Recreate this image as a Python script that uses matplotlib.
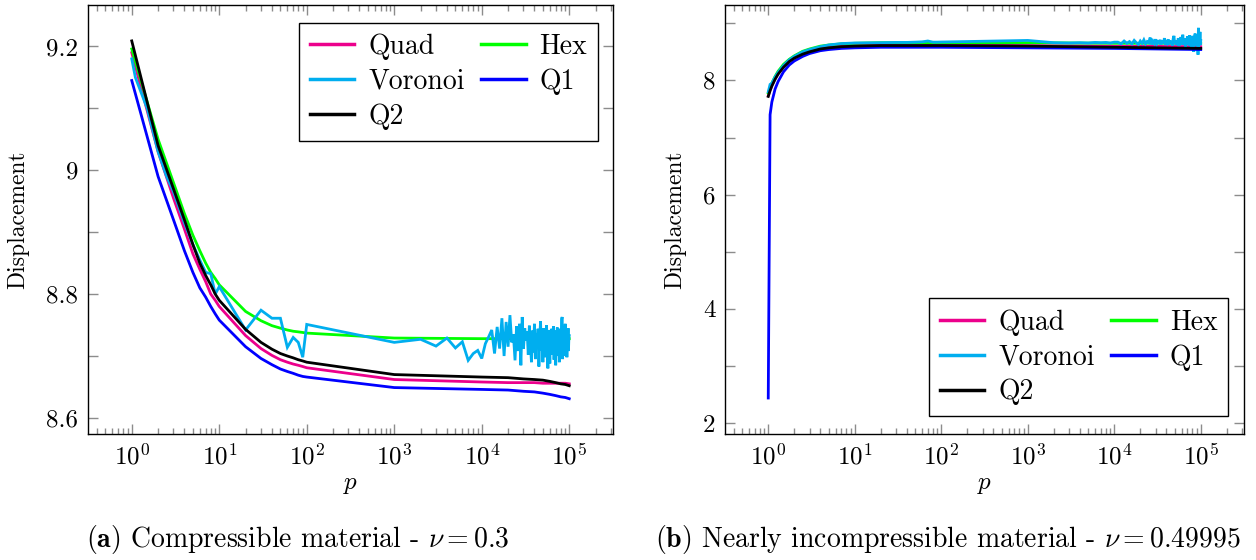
import numpy as np
import matplotlib
matplotlib.use("Agg")
import matplotlib.pyplot as plt
from matplotlib.ticker import FixedLocator, FixedFormatter, LogLocator, LogFormatterSciNotation, NullFormatter

plt.rcParams['font.family'] = ['cmr10', 'DejaVu Serif']
plt.rcParams['mathtext.fontset'] = 'cm'
plt.rcParams['axes.formatter.use_mathtext'] = True
plt.rcParams['axes.unicode_minus'] = False

# ---------------- compressible material (nu = 0.3) ----------------
p_smooth = [1, 2, 3, 4, 5, 6, 7, 8, 9, 10, 20, 30, 40, 50, 60, 70, 80, 90, 100,
            1000, 10000, 20000, 30000, 40000, 50000, 60000, 70000, 80000, 90000, 100000]
quad_a = [9.190, 9.030, 8.955, 8.905, 8.865, 8.840, 8.820, 8.800, 8.790, 8.780,
          8.733, 8.712, 8.701, 8.694, 8.690, 8.687, 8.685, 8.683, 8.681,
          8.662, 8.658, 8.657, 8.657, 8.657, 8.656, 8.656, 8.656, 8.656, 8.656, 8.655]
hex_a = [9.196, 9.050, 8.980, 8.930, 8.895, 8.870, 8.850, 8.835, 8.825, 8.815,
         8.772, 8.757, 8.749, 8.745, 8.742, 8.740, 8.739, 8.738, 8.737,
         8.729, 8.728, 8.728, 8.728, 8.728, 8.728, 8.728, 8.728, 8.728, 8.728, 8.728]
q1_a = [9.145, 8.990, 8.920, 8.870, 8.835, 8.810, 8.795, 8.780, 8.768, 8.758,
        8.715, 8.696, 8.686, 8.679, 8.675, 8.672, 8.669, 8.667, 8.666,
        8.649, 8.646, 8.645, 8.643, 8.642, 8.640, 8.638, 8.636, 8.634, 8.633, 8.631]
q2_a = [9.209, 9.040, 8.970, 8.920, 8.880, 8.850, 8.830, 8.815, 8.800, 8.790,
        8.743, 8.722, 8.711, 8.704, 8.700, 8.697, 8.694, 8.692, 8.690,
        8.670, 8.666, 8.665, 8.663, 8.662, 8.661, 8.659, 8.657, 8.655, 8.654, 8.652]

p_vor_head = [1, 1.1, 1.5, 2, 2.5, 3, 4, 5, 6, 7, 8, 9, 10, 20, 30, 40, 50, 60, 70, 80, 90, 100,
              1000, 2000, 3000, 4000, 5000, 6000, 7000, 8000, 9000, 10000]
vor_a_head = [9.180, 9.150, 9.100, 9.030, 8.990, 8.965, 8.915, 8.880, 8.855, 8.835, 8.833, 8.800, 8.812,
              8.742, 8.774, 8.761, 8.761, 8.714, 8.730, 8.722, 8.698, 8.751,
              8.722, 8.727, 8.716, 8.729, 8.713, 8.723, 8.693, 8.704, 8.709, 8.696]
p_vor_tail = np.arange(11000, 100001, 1000)
vor_a_tail = [8.720, 8.731, 8.742, 8.704, 8.747, 8.712, 8.761, 8.700, 8.755, 8.715,
              8.766, 8.722, 8.735, 8.693, 8.748, 8.708, 8.752, 8.685, 8.763, 8.712,
              8.745, 8.725, 8.740, 8.702, 8.749, 8.718, 8.690, 8.741, 8.706, 8.752,
              8.695, 8.737, 8.720, 8.744, 8.683, 8.731, 8.756, 8.709, 8.727, 8.690,
              8.745, 8.712, 8.735, 8.698, 8.750, 8.716, 8.680, 8.742, 8.722, 8.688,
              8.738, 8.710, 8.744, 8.702, 8.731, 8.748, 8.694, 8.726, 8.741, 8.685,
              8.733, 8.712, 8.746, 8.700, 8.723, 8.738, 8.690, 8.729, 8.744, 8.706,
              8.722, 8.760, 8.763, 8.695, 8.735, 8.710, 8.748, 8.700, 8.730, 8.752,
              8.705, 8.725, 8.742, 8.698, 8.736, 8.715, 8.745, 8.708, 8.729, 8.733]

# ---------------- nearly incompressible material (nu = 0.49995) ----------------
p_fine = [1, 1.05, 1.1, 1.2, 1.3, 1.5, 1.75, 2, 2.5, 3, 4, 5, 7, 10, 20, 50, 100,
          1000, 10000, 100000]
quad_b = [7.73, 7.83, 7.91, 8.03, 8.12, 8.24, 8.34, 8.40, 8.47, 8.52, 8.56, 8.58, 8.60, 8.61,
          8.62, 8.62, 8.62, 8.61, 8.60, 8.59]
hex_b = [7.78, 7.87, 7.95, 8.07, 8.16, 8.28, 8.37, 8.43, 8.51, 8.55, 8.60, 8.62, 8.64, 8.65,
         8.66, 8.66, 8.66, 8.66, 8.65, 8.65]
q1_b = [2.44, 7.40, 7.62, 7.85, 7.98, 8.15, 8.27, 8.34, 8.42, 8.47, 8.52, 8.54, 8.56, 8.57,
        8.58, 8.58, 8.58, 8.57, 8.56, 8.54]
q2_b = [7.72, 7.82, 7.90, 8.02, 8.11, 8.23, 8.33, 8.39, 8.46, 8.50, 8.55, 8.57, 8.59, 8.60,
        8.61, 8.61, 8.61, 8.60, 8.58, 8.56]

p_vor_b_head = [1, 1.05, 1.1, 1.2, 1.3, 1.5, 1.75, 2, 2.5, 3, 4, 5, 7, 10, 20, 30, 40, 50, 60, 70,
                80, 90, 100, 1000, 2000, 3000, 4000, 5000, 6000, 7000, 8000, 9000, 10000]
vor_b_head = [7.80, 7.93, 7.95, 8.06, 8.14, 8.26, 8.36, 8.42, 8.50, 8.54, 8.59, 8.62, 8.645, 8.655,
              8.66, 8.665, 8.665, 8.67, 8.675, 8.69, 8.67, 8.67, 8.672, 8.70, 8.66, 8.655, 8.66,
              8.655, 8.665, 8.66, 8.665, 8.655, 8.67]
vor_b_tail = [8.67, 8.64, 8.69, 8.65, 8.68, 8.64, 8.70, 8.66, 8.63, 8.69,
              8.65, 8.71, 8.64, 8.68, 8.66, 8.75, 8.63, 8.69, 8.65, 8.72,
              8.64, 8.68, 8.66, 8.71, 8.63, 8.70, 8.65, 8.74, 8.62, 8.69,
              8.66, 8.72, 8.63, 8.70, 8.65, 8.68, 8.61, 8.73, 8.78, 8.64,
              8.70, 8.62, 8.69, 8.66, 8.74, 8.60, 8.71, 8.65, 8.76, 8.63,
              8.68, 8.80, 8.62, 8.70, 8.66, 8.74, 8.59, 8.72, 8.64, 8.77,
              8.63, 8.70, 8.66, 8.79, 8.60, 8.72, 8.65, 8.75, 8.58, 8.78,
              8.62, 8.70, 8.50, 8.76, 8.64, 8.82, 8.61, 8.72, 8.66, 8.80,
              8.63, 8.74, 8.45, 8.92, 8.60, 8.78, 8.65, 8.85, 8.62, 8.70]

labels = ['Quad', 'Hex', 'Voronoi', 'Q1', 'Q2']
colors = {'Quad': '#EC008C', 'Hex': '#00FF00', 'Voronoi': '#00AEEF', 'Q1': '#0000FF', 'Q2': '#000000'}

fig = plt.figure(figsize=(12.56, 5.6), dpi=100)
W, H = 1256, 560
ax_a = fig.add_axes([88 / W, 126 / H, 525 / W, 429 / H])
ax_b = fig.add_axes([725 / W, 126 / H, 519 / W, 429 / H])

lw = 2.0
fs_tick = 18
fs_label = 17
fs_leg = 20
fs_cap = 20


def draw(ax, series):
    handles = {}
    for name in labels:
        x, y = series[name]
        h, = ax.plot(x, y, color=colors[name], lw=lw, label=name, solid_joinstyle='miter')
        handles[name] = h
    return handles


ha = draw(ax_a, {
    'Quad': (p_smooth, quad_a),
    'Hex': (p_smooth, hex_a),
    'Voronoi': (list(p_vor_head) + list(p_vor_tail), vor_a_head + vor_a_tail),
    'Q1': (p_smooth, q1_a),
    'Q2': (p_smooth, q2_a),
})
hb = draw(ax_b, {
    'Quad': (p_fine, quad_b),
    'Hex': (p_fine, hex_b),
    'Voronoi': (list(p_vor_b_head) + list(p_vor_tail), vor_b_head + vor_b_tail),
    'Q1': (p_fine, q1_b),
    'Q2': (p_fine, q2_b),
})


def style(ax, ylim, major, minor, majlabels):
    ax.set_xscale('log')
    ax.set_xlim(10 ** -0.5, 10 ** 5.5)
    ax.set_ylim(*ylim)
    ax.xaxis.set_major_locator(FixedLocator([1, 10, 100, 1000, 10000, 100000]))
    ax.xaxis.set_major_formatter(LogFormatterSciNotation())
    ax.xaxis.set_minor_locator(LogLocator(base=10, subs=np.arange(2, 10), numticks=20))
    ax.xaxis.set_minor_formatter(NullFormatter())
    ax.yaxis.set_major_locator(FixedLocator(major))
    ax.yaxis.set_major_formatter(FixedFormatter(majlabels))
    ax.yaxis.set_minor_locator(FixedLocator(minor))
    ax.tick_params(which='both', direction='in', top=True, right=True,
                   color='0.55', width=1.0, labelsize=fs_tick)
    ax.tick_params(which='major', length=7, pad=7)
    ax.tick_params(axis='x', which='minor', length=4)
    ax.tick_params(axis='y', which='minor', length=7)
    for s in ax.spines.values():
        s.set_linewidth(1.0)
    ax.set_xlabel('$p$', fontsize=fs_tick, labelpad=3)
    ax.set_ylabel('Displacement', fontsize=fs_label, labelpad=12)


style(ax_a, (8.574, 9.267), [8.6, 8.8, 9.0, 9.2], [8.7, 8.9, 9.1], ['8.6', '8.8', '9', '9.2'])
style(ax_b, (1.81, 9.32), [2, 4, 6, 8], [3, 5, 7, 9], ['2', '4', '6', '8'])


def legend(ax, h, loc, anchor):
    order = ['Quad', 'Voronoi', 'Q2', 'Hex', 'Q1']
    leg = ax.legend([h[k] for k in order], order, ncol=2, loc=loc, bbox_to_anchor=anchor,
                    fontsize=fs_leg, frameon=True, fancybox=False, framealpha=1,
                    edgecolor='black', handlelength=1.6, handletextpad=0.5,
                    columnspacing=0.6, labelspacing=0.3, borderpad=0.4,
                    borderaxespad=0)
    leg.get_frame().set_linewidth(1.0)
    for line in leg.get_lines():
        line.set_linewidth(2.5)


legend(ax_a, ha, 'upper right', (0.972, 0.959))
legend(ax_b, hb, 'lower right', (0.970, 0.041))

fig.text(298 / W, 1 - 540 / H, r'$\mathbf{(a)}$ Compressible material - $\nu = 0.3$',
         ha='center', va='center', fontsize=fs_cap)
fig.text(948 / W, 1 - 540 / H, r'$\mathbf{(b)}$ Nearly incompressible material - $\nu = 0.49995$',
         ha='center', va='center', fontsize=fs_cap)

fig.savefig('out.png', dpi=100)
